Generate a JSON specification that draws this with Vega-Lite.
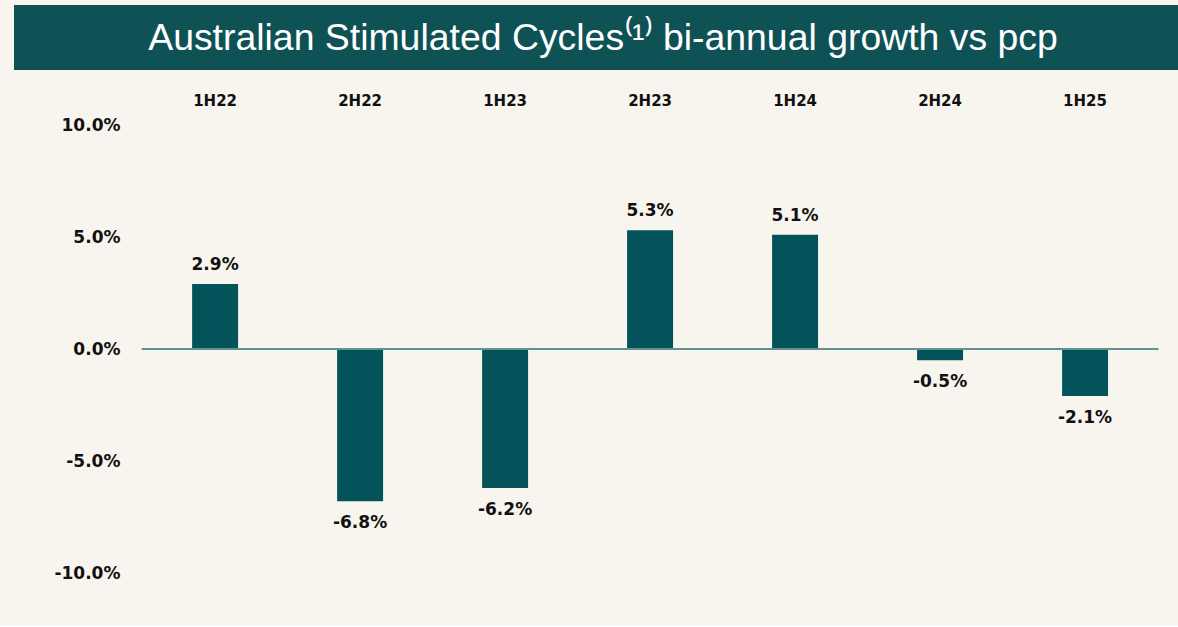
{
  "$schema": "https://vega.github.io/schema/vega-lite/v6.json",
  "background": "#f8f5ef",
  "padding": {"left": 14, "top": 5, "right": 0, "bottom": 45},
  "spacing": 23,
  "config": {
    "view": {"stroke": null},
    "locale": {"number": {"decimal": ".", "thousands": ",", "grouping": [3], "currency": ["$", ""], "minus": "-"}}
  },
  "vconcat": [
    {
      "width": 1164,
      "height": 65,
      "view": {"fill": "#0f5256", "stroke": null},
      "data": {"values": [{"t": "Australian Stimulated Cycles⁽¹⁾ bi-annual growth vs pcp"}]},
      "mark": {"type": "text", "font": "Liberation Sans", "fontSize": 37.4, "color": "#ffffff", "baseline": "middle", "dx": 7, "dy": 1},
      "encoding": {"text": {"field": "t"}}
    },
    {
      "width": 1164,
      "height": 448,
      "data": {"values": [
        {"period": "1H22", "growth": 0.029},
        {"period": "2H22", "growth": -0.068},
        {"period": "1H23", "growth": -0.062},
        {"period": "2H23", "growth": 0.053},
        {"period": "1H24", "growth": 0.051},
        {"period": "2H24", "growth": -0.005},
        {"period": "1H25", "growth": -0.021}
      ]},
      "encoding": {
        "x": {
          "field": "period", "type": "nominal", "sort": null,
          "scale": {"paddingInner": 0.683, "paddingOuter": 0.8555, "align": 0.718},
          "axis": {"orient": "top", "title": null, "domain": false, "ticks": false, "tickSize": 0, "labelAngle": 0,
                   "labelFont": "DejaVu Sans", "labelFontWeight": "bold", "labelFontSize": 15, "labelColor": "#111111", "labelPadding": 17}
        },
        "y": {
          "field": "growth", "type": "quantitative",
          "scale": {"domain": [-0.1, 0.1], "nice": false, "zero": false},
          "axis": {"title": null, "values": [-0.1, -0.05, 0, 0.05, 0.1], "format": ".1%", "grid": false, "domain": false, "ticks": false, "tickSize": 0, "offset": -129,
                   "labelFont": "DejaVu Sans", "labelFontWeight": "bold", "labelFontSize": 17, "labelColor": "#111111", "labelPadding": 23}
        }
      },
      "layer": [
        {"mark": {"type": "bar", "color": "#04535a"}},
        {
          "mark": {"type": "rule", "color": "#5f9290", "strokeWidth": 2, "strokeCap": "square"},
          "encoding": {
            "y": {"datum": 0},
            "x": {"field": "period", "type": "nominal", "sort": null, "bandPosition": -1.076},
            "x2": {"field": "period", "bandPosition": 2.076}
          }
        },
        {
          "transform": [{"filter": "datum.growth >= 0"}],
          "mark": {"type": "text", "font": "DejaVu Sans", "fontWeight": "bold", "fontSize": 17, "color": "#111111", "baseline": "middle", "dy": -19},
          "encoding": {"text": {"field": "growth", "type": "quantitative", "format": ".1%"}}
        },
        {
          "transform": [{"filter": "datum.growth < 0"}],
          "mark": {"type": "text", "font": "DejaVu Sans", "fontWeight": "bold", "fontSize": 17, "color": "#111111", "baseline": "middle", "dy": 22},
          "encoding": {"text": {"field": "growth", "type": "quantitative", "format": ".1%"}}
        }
      ]
    }
  ]
}
